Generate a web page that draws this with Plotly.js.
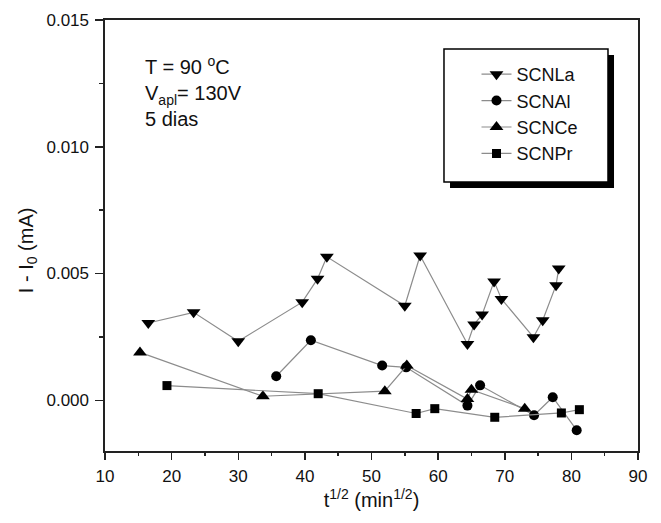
<!DOCTYPE html>
<html>
<head>
<meta charset="utf-8">
<script src="https://cdn.plot.ly/plotly-3.0.1.min.js"></script>
<style>html,body{margin:0;padding:0;background:#fff;}#chart{width:661px;height:523px;}</style>
</head>
<body>
<div id="chart"></div>
<script>
// Data
var seriesNames = ["SCNLa", "SCNAl", "SCNCe", "SCNPr"];

var laX = [16.5, 23.3, 30.0, 39.6, 41.9, 43.3, 55.0, 57.3, 64.4, 65.4, 66.6, 68.4, 69.5, 74.3, 75.7, 77.7, 78.1];
var laY = [0.00305, 0.00347, 0.00233, 0.00387, 0.00479, 0.00566, 0.00373, 0.00571, 0.00222, 0.00299, 0.00338, 0.00469, 0.00400, 0.00249, 0.00316, 0.00454, 0.00520];

var alX = [35.7, 40.9, 51.6, 55.2, 64.4, 66.3, 74.4, 77.2, 80.8];
var alY = [0.00095, 0.00237, 0.00137, 0.00130, -0.00021, 0.00059, -0.00059, 0.00012, -0.00118];

var ceX = [15.25, 33.7, 52.0, 55.3, 64.4, 65.0, 73.0];
var ceY = [0.00189, 0.00016, 0.00036, 0.00137, 0.00005, 0.00042, -0.00033];

var prX = [19.3, 42.0, 56.7, 59.5, 68.5, 78.5, 81.2];
var prY = [0.00058, 0.00026, -0.00052, -0.00033, -0.00067, -0.00050, -0.00037];

var xTickVals = [10, 20, 30, 40, 50, 60, 70, 80, 90];
var yTickVals = [0.000, 0.005, 0.010, 0.015];
var yTickText = ["0.000", "0.005", "0.010", "0.015"];

var FONT = "Liberation Sans, Arial, sans-serif";
var lineStyle = {color: "#8c8c8c", width: 1.2};

function mk(name, x, y, symbol, size) {
  return {
    type: "scatter", mode: "lines+markers", name: name, x: x, y: y,
    line: lineStyle,
    marker: {symbol: symbol, size: size, color: "#000", line: {width: 0}}
  };
}

var data = [
  mk(seriesNames[0], laX, laY, "triangle-down", 12),
  mk(seriesNames[1], alX, alY, "circle", 10),
  mk(seriesNames[2], ceX, ceY, "triangle-up", 12),
  mk(seriesNames[3], prX, prY, "square", 9)
];

var axisCommon = {
  showgrid: false, zeroline: false, showline: true, linecolor: "#222", linewidth: 1.6,
  ticks: "outside", tickwidth: 1.5, tickcolor: "#222",
  tickfont: {family: FONT, size: 17, color: "#111"},
  mirror: true
};

var layout = {
  width: 661, height: 523,
  margin: {l: 105, r: 23, t: 20, b: 72},
  paper_bgcolor: "#fff", plot_bgcolor: "#fff",
  showlegend: true,
  xaxis: Object.assign({}, axisCommon, {
    range: [10, 90], tickvals: xTickVals, ticklen: 7, ticklabelstandoff: 2,
    minor: {dtick: 5, tick0: 10, ticklen: 3, tickwidth: 1.5, tickcolor: "#222", ticks: "outside", showgrid: false},
    title: {text: "t<sup>1/2</sup> (min<sup>1/2</sup>)", font: {family: FONT, size: 20, color: "#111"}, standoff: 6}
  }),
  yaxis: Object.assign({}, axisCommon, {
    range: [-0.002, 0.015], tickvals: yTickVals, ticktext: yTickText, ticklen: 8, ticklabelstandoff: 3,
    minor: {dtick: 0.0025, tick0: 0, ticklen: 4, tickwidth: 1.5, tickcolor: "#222", ticks: "outside", showgrid: false}
  }),
  legend: {
    x: 0.697, y: 0.9165, xanchor: "left", yanchor: "top",
    bgcolor: "rgba(0,0,0,0)", borderwidth: 0,
    font: {family: FONT, size: 18, color: "#111"},
    tracegroupgap: 0, itemsizing: "trace"
  },
  shapes: [
    {type: "rect", xref: "paper", yref: "paper", x0: 0.6473, x1: 0.955, y0: 0.6102, y1: 0.9188,
     fillcolor: "#000", line: {width: 0}, layer: "above"},
    {type: "rect", xref: "paper", yref: "paper", x0: 0.636, x1: 0.9437, y0: 0.6241, y1: 0.9327,
     fillcolor: "#fff", line: {width: 1.5, color: "#000"}, layer: "above"}
  ],
  annotations: [
    {xref: "paper", yref: "paper", x: 0.0713, y: 0.927, xanchor: "left", yanchor: "top", align: "left",
     showarrow: false,
     text: "T = 90 <sup>o</sup>C<br>V<sub>apl</sub>= 130V<br>5 dias",
     font: {family: FONT, size: 20, color: "#111"}},
    {xref: "paper", yref: "paper", x: -0.1463, y: 0.466, xanchor: "center", yanchor: "middle",
     textangle: -90, showarrow: false,
     text: "I - I<sub>0</sub> (mA)",
     font: {family: FONT, size: 20, color: "#111"}}
  ]
};

Plotly.newPlot("chart", data, layout, {displayModeBar: false, staticPlot: true});
</script>
</body>
</html>
